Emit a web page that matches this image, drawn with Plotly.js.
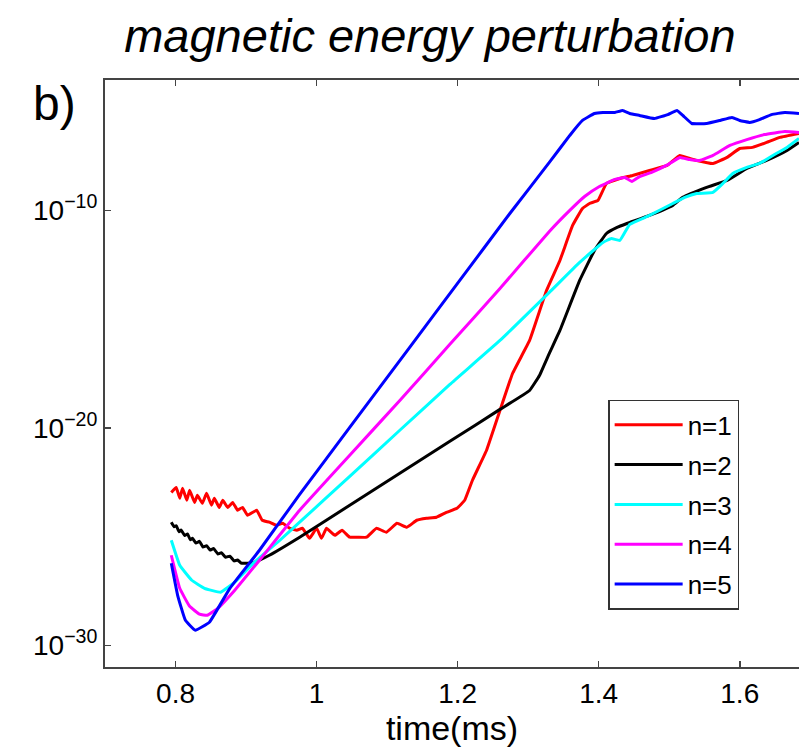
<!DOCTYPE html>
<html>
<head>
<meta charset="utf-8">
<script src="https://cdn.plot.ly/plotly-3.0.1.min.js"></script>
<style>html,body{margin:0;padding:0;background:#fff;overflow:hidden}</style>
</head>
<body>
<div id="chart" style="width:799px;height:748px"></div>
<script>
// Series names
const seriesNames = ["n=1", "n=2", "n=3", "n=4", "n=5"];
const seriesColors = ["#ff0000", "#000000", "#00ffff", "#ff00ff", "#0000ff"];

// time (ms) and log10(magnetic energy perturbation)
const t_n1 = [0.794,0.801,0.806,0.810,0.816,0.820,0.827,0.831,0.838,0.844,0.851,0.855,0.862,0.867,0.874,0.881,0.888,0.895,0.902,0.915,0.923,0.933,0.943,0.952,0.962,0.972,0.980,0.990,1.000,1.007,1.014,1.026,1.036,1.047,1.058,1.071,1.085,1.099,1.114,1.128,1.142,1.156,1.170,1.184,1.199,1.210,1.221,1.241,1.260,1.278,1.302,1.326,1.345,1.363,1.377,1.387,1.399,1.411,1.430,1.448,1.472,1.497,1.515,1.529,1.539,1.562,1.582,1.600,1.618,1.638,1.657,1.684];
const e_n1 = [-22.97,-22.74,-23.24,-22.78,-23.33,-22.87,-23.43,-23.10,-23.47,-23.01,-23.56,-23.24,-23.66,-23.33,-23.66,-23.43,-23.79,-23.66,-24.02,-23.79,-24.25,-24.34,-24.48,-24.39,-24.62,-24.71,-24.62,-25.08,-24.62,-25.08,-24.62,-24.94,-24.71,-25.03,-25.03,-25.03,-24.62,-24.80,-24.39,-24.57,-24.25,-24.16,-24.11,-23.89,-23.70,-23.33,-22.41,-21.03,-19.20,-17.49,-15.98,-13.68,-12.30,-10.69,-9.91,-9.68,-9.54,-8.76,-8.53,-8.39,-8.16,-7.93,-7.47,-7.61,-7.70,-7.84,-7.56,-7.15,-7.10,-6.87,-6.64,-6.46];

const t_n2 = [0.794,0.798,0.801,0.805,0.808,0.813,0.817,0.821,0.824,0.829,0.834,0.839,0.844,0.849,0.854,0.860,0.865,0.871,0.877,0.883,0.888,0.893,0.898,0.912,0.933,0.976,1.047,1.118,1.189,1.260,1.302,1.316,1.330,1.345,1.373,1.394,1.411,1.426,1.440,1.472,1.505,1.519,1.553,1.582,1.610,1.638,1.667,1.684];
const e_n2 = [-24.34,-24.55,-24.50,-24.78,-24.70,-24.95,-24.88,-25.15,-25.08,-25.30,-25.22,-25.48,-25.42,-25.62,-25.55,-25.80,-25.74,-25.95,-25.90,-26.12,-26.08,-26.22,-26.23,-26.18,-25.86,-25.03,-23.56,-22.09,-20.62,-19.15,-18.28,-17.59,-16.57,-15.52,-13.22,-11.84,-11.06,-10.78,-10.60,-10.23,-9.77,-9.40,-8.94,-8.62,-8.07,-7.70,-7.24,-6.87];

const t_n3 = [0.794,0.806,0.823,0.841,0.864,0.884,0.912,0.948,0.976,1.047,1.118,1.189,1.260,1.330,1.373,1.406,1.418,1.430,1.444,1.472,1.505,1.522,1.539,1.562,1.576,1.590,1.610,1.628,1.647,1.667,1.684];
const e_n3 = [-25.17,-26.32,-27.01,-27.38,-27.56,-27.10,-26.18,-25.17,-24.34,-22.23,-20.11,-18.00,-15.98,-13.77,-12.39,-11.47,-11.29,-11.38,-10.64,-10.23,-9.68,-9.40,-9.22,-9.17,-8.76,-8.30,-8.02,-7.84,-7.47,-7.10,-6.69];

const t_n4 = [0.794,0.806,0.820,0.834,0.845,0.860,0.884,0.919,0.976,1.047,1.118,1.189,1.260,1.330,1.359,1.380,1.401,1.423,1.437,1.447,1.458,1.475,1.496,1.515,1.529,1.543,1.562,1.586,1.610,1.635,1.664,1.684];
const e_n4 = [-25.86,-27.38,-28.21,-28.57,-28.62,-28.30,-27.47,-26.09,-23.79,-21.26,-18.74,-16.16,-13.59,-10.97,-10.00,-9.36,-8.90,-8.57,-8.48,-8.67,-8.44,-8.25,-7.93,-7.56,-7.66,-7.70,-7.47,-7.01,-6.74,-6.51,-6.37,-6.41];

const t_n5 = [0.794,0.803,0.814,0.828,0.848,0.877,0.919,0.976,1.047,1.132,1.203,1.274,1.330,1.359,1.377,1.394,1.406,1.423,1.434,1.444,1.458,1.479,1.498,1.511,1.521,1.532,1.553,1.572,1.589,1.600,1.614,1.628,1.645,1.664,1.684];
const e_n5 = [-26.23,-27.70,-28.85,-29.31,-28.94,-27.38,-25.63,-23.06,-19.98,-16.30,-13.22,-10.14,-7.79,-6.55,-5.86,-5.54,-5.49,-5.49,-5.40,-5.54,-5.63,-5.77,-5.59,-5.40,-5.68,-6.00,-6.00,-5.86,-5.72,-5.86,-5.95,-5.82,-5.59,-5.49,-5.54];

// axis ticks
const xTickVals = [0.8, 1.0, 1.2, 1.4, 1.6];
const xTickText = ["0.8", "1", "1.2", "1.4", "1.6"];
const yTickVals = [1e-30, 1e-20, 1e-10];
const yTickText = ["10<sup>\u221230</sup>", "10<sup>\u221220</sup>", "10<sup>\u221210</sup>"];

const times = [t_n1, t_n2, t_n3, t_n4, t_n5];
const exps = [e_n1, e_n2, e_n3, e_n4, e_n5];

const FONT = "Liberation Sans, Arial, Helvetica, sans-serif";

const traces = seriesNames.map((name, i) => ({
  type: "scatter",
  mode: "lines",
  name: name,
  legendgroup: name,
  x: times[i],
  y: exps[i].map(v => Math.pow(10, v)),
  line: { color: seriesColors[i], width: 3, shape: "spline", smoothing: 0.3 }
}));

const layout = {
  width: 799,
  height: 748,
  margin: { l: 105, r: 0, t: 80, b: 81 },
  paper_bgcolor: "#ffffff",
  plot_bgcolor: "#ffffff",
  showlegend: true,
  title: {
    text: "<i>magnetic energy perturbation</i>",
    font: { family: FONT, size: 47, color: "#000" },
    x: 0.538, xref: "container", xanchor: "center",
    y: 0.953, yref: "container", yanchor: "middle"
  },
  xaxis: {
    range: [0.7, 1.684],
    tickvals: xTickVals,
    ticktext: xTickText,
    ticks: "inside",
    ticklen: 6,
    tickwidth: 1.5,
    tickcolor: "#444",
    showline: true,
    linecolor: "#444",
    linewidth: 2,
    mirror: "ticks",
    showgrid: false,
    zeroline: false,
    tickfont: { family: FONT, size: 28, color: "#000" },
    title: { text: "time(ms)", font: { family: FONT, size: 34, color: "#000" }, standoff: 4 }
  },
  yaxis: {
    type: "log",
    range: [-31, -4],
    tickvals: yTickVals,
    ticktext: yTickText,
    ticks: "inside",
    ticklen: 6,
    tickwidth: 1.5,
    tickcolor: "#444",
    showline: true,
    linecolor: "#444",
    linewidth: 2,
    mirror: false,
    showgrid: false,
    zeroline: false,
    tickfont: { family: FONT, size: 28, color: "#000" }
  },
  legend: {
    x: 0.725, xanchor: "left",
    y: 0.455, yanchor: "top",
    bgcolor: "#ffffff",
    bordercolor: "#333",
    borderwidth: 1.5,
    font: { family: FONT, size: 26, color: "#000" },
    traceorder: "grouped",
    tracegroupgap: 3,
    itemwidth: 68
  },
  annotations: [{
    text: "b)",
    xref: "paper", yref: "paper",
    x: -0.107, y: 1.008,
    xanchor: "left", yanchor: "top",
    showarrow: false,
    font: { family: FONT, size: 48, color: "#000" }
  }]
};

Plotly.newPlot("chart", traces, layout, { displayModeBar: false, staticPlot: true });
</script>
</body>
</html>
